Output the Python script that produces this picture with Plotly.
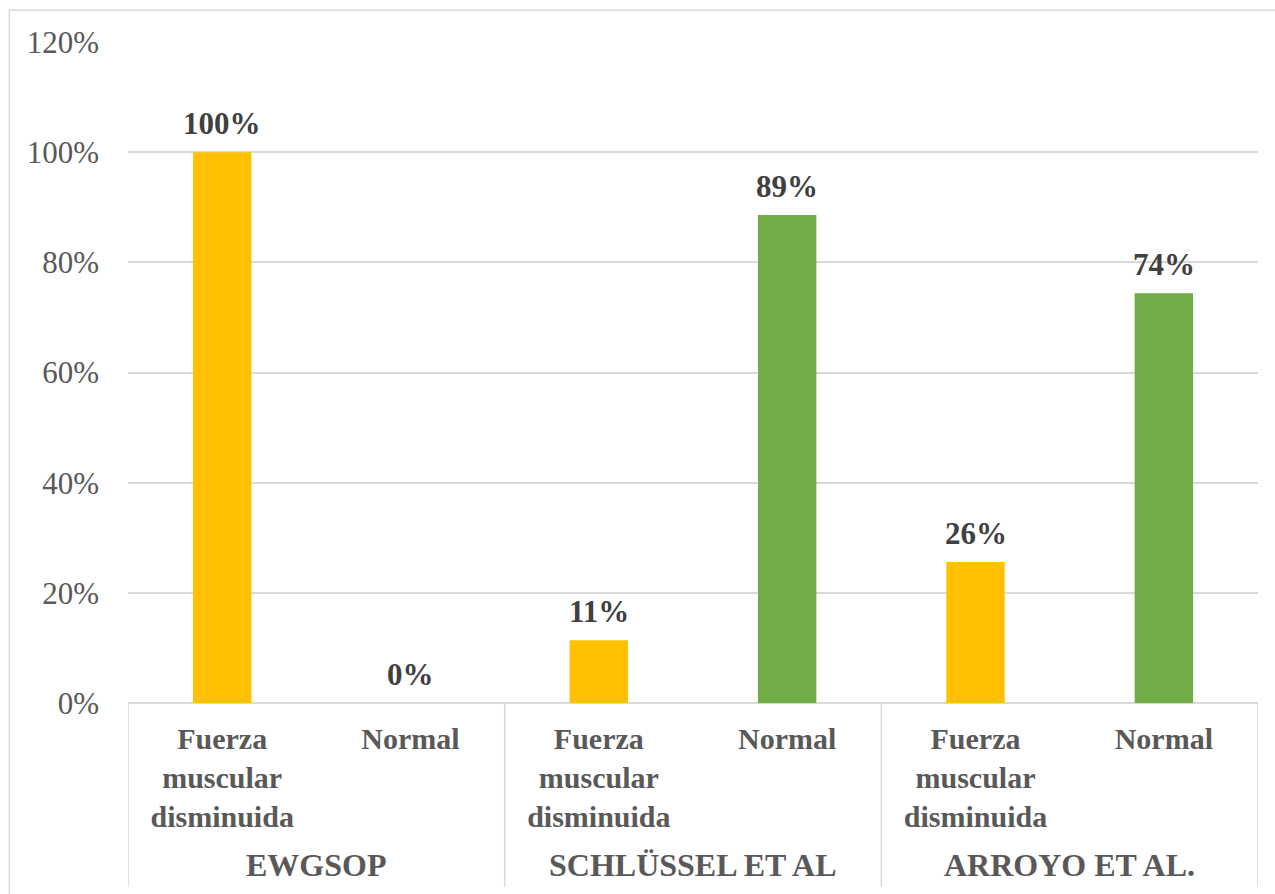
import plotly.graph_objects as go

# Study groups, subcategories and the share of participants in each
groups = ["EWGSOP", "SCHLÜSSEL ET AL", "ARROYO ET AL."]
subcats = ["Fuerza<br>muscular<br>disminuida", "Normal"]
values = [1.0, 0.0, 0.114, 0.886, 0.256, 0.744]
y_ticks = [0, 0.2, 0.4, 0.6, 0.8, 1.0, 1.2]
y_tick_text = ["0%", "20%", "40%", "60%", "80%", "100%", "120%"]

colors_by_subcat = {0: "#FFC000", 1: "#70AD47"}

FONT = "Liberation Serif, Times New Roman, serif"
GRID = "#D9D9D9"
TEXT = "#595959"
LABEL = "#404040"

n_sub = len(subcats)
positions = list(range(len(groups) * n_sub))
bar_colors = [colors_by_subcat[i % n_sub] for i in positions]
inner_labels = [subcats[i % n_sub] for i in positions]

fig = go.Figure(
    go.Bar(
        x=positions,
        y=values,
        marker=dict(color=bar_colors, line=dict(width=0)),
        width=0.31,
        hoverinfo="skip",
    )
)

# Value labels above each bar
for x, v in zip(positions, values):
    fig.add_annotation(x=x, y=v, xref="x", yref="y", text=f"{v:.0%}", showarrow=False,
                       yanchor="bottom", yshift=9,
                       font=dict(family=FONT, size=31, color=LABEL, weight="bold"))

# Group dividers below the category axis
bounds = [g * n_sub - 0.5 for g in range(len(groups) + 1)]
for b in bounds:
    fig.add_shape(type="line", xref="x", yref="paper", x0=b, x1=b, y0=0, y1=-0.278,
                  line=dict(color=GRID, width=1.5))

# Outer group labels
for g, name in enumerate(groups):
    fig.add_annotation(x=g * n_sub + (n_sub - 1) / 2, xref="x", y=-0.245, yref="paper",
                       text=name, showarrow=False, yanchor="middle",
                       font=dict(family=FONT, size=32, color=TEXT, weight="bold"))

# Chart border
fig.add_shape(type="rect", xref="paper", yref="paper", x0=-0.105, x1=1.2, y0=-0.5, y1=1.048,
              line=dict(color=GRID, width=1.5), layer="below")

fig.update_layout(
    width=1275,
    height=894,
    margin=dict(l=128, r=17, t=42, b=191),
    paper_bgcolor="white",
    plot_bgcolor="white",
    showlegend=False,
    font=dict(family=FONT, color=TEXT),
    xaxis=dict(
        range=[-0.5, len(positions) - 0.5],
        tickvals=positions,
        ticktext=inner_labels,
        tickfont=dict(family=FONT, size=30, color=TEXT, weight="bold"),
        showgrid=False,
        zeroline=False,
        showline=False,
        ticks="",
        ticklabelstandoff=15,
    ),
    yaxis=dict(
        range=[0, 1.2],
        tickvals=y_ticks,
        ticktext=y_tick_text,
        tickfont=dict(family=FONT, size=31, color=TEXT),
        showgrid=True,
        gridcolor=GRID,
        gridwidth=1.5,
        zeroline=True,
        zerolinecolor=GRID,
        zerolinewidth=1.5,
        showline=False,
        ticks="",
        ticklabelstandoff=28,
    ),
)

fig.write_html("out.html")
